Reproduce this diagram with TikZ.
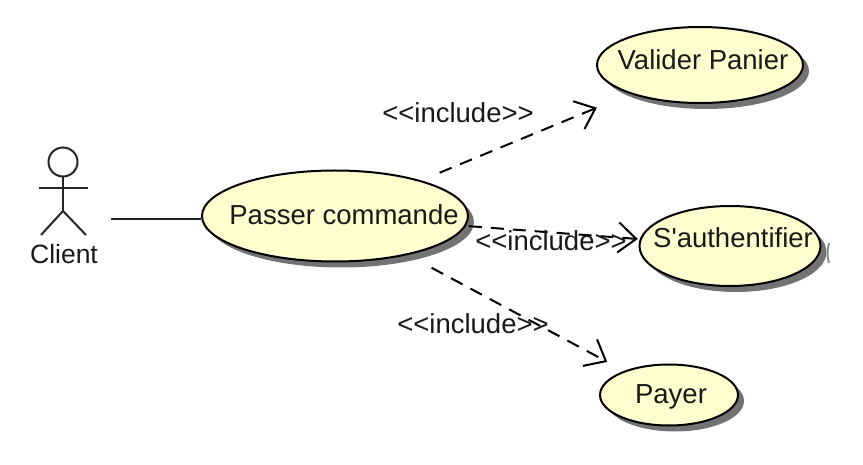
\documentclass[tikz,border=0pt]{standalone}
\usepackage{fontspec}
\setmainfont{Liberation Sans}
\usetikzlibrary{arrows.meta, shapes.geometric, shadows}
\definecolor{usecasefill}{HTML}{FEFECE}
\newcommand{\includelabel}{<{}<include>{}>}
\newcommand{\casename}[3]{\raisebox{\dimexpr#2-0.35em}[0pt][0pt]{\makebox[0pt]{\hspace*{#1}#3}}}
\begin{document}
\begin{tikzpicture}[x=1pt, y=-1pt,
  usecase/.style = {shape=ellipse, draw, line width=2pt, fill=usecasefill, inner sep=0pt,
    font=\fontsize{27.5}{27.5}\selectfont, text=black!90,
    drop shadow={shadow xshift=6pt, shadow yshift=-6pt, fill=black!55, opacity=1}},
  inclabel/.style = {inner sep=0pt, font=\fontsize{27.5}{27.5}\selectfont, text=black!90},
  includes/.style = {dashed, dash pattern=on 13pt off 9pt, line width=2pt,
    -{Straight Barb[length=18pt, width=30pt, line width=2pt]}},
  stick/.style = {line width=2pt, black!85}]
  \useasboundingbox (0,0) rectangle (863,465);
  % use cases
  \node[usecase, minimum width=266pt, minimum height=91pt] (passer) at (335,216) {\casename{18pt}{1pt}{Passer commande}};
  \node[usecase, minimum width=206pt, minimum height=76pt] (valider) at (700,65) {\casename{6pt}{5pt}{Valider Panier}};
  \node[usecase, minimum width=181pt, minimum height=80pt] (authentifier) at (730,246) {\casename{6pt}{8pt}{S\textquotesingle authentifier}};
  \node[usecase, minimum width=138pt, minimum height=61pt] (payer) at (669,395) {\casename{4pt}{1pt}{Payer}};
  \draw[line width=2pt, black!45] (829,243) .. controls (827,250) and (827,257) .. (829,263);
  % actor
  \node[circle, draw, line width=2pt, black!85, minimum size=29pt, inner sep=0pt] (head) at (63,162) {};
  \coordinate (hip) at (63,211);
  \draw[stick] (head.south) -- (hip);
  \coordinate (armleft) at (39,188);
  \coordinate (armright) at (88,188);
  \coordinate (footleft) at (41,235);
  \coordinate (footright) at (86,235);
  \draw[stick] (armleft) -- (armright);
  \draw[stick] (footleft) -- (hip) -- (footright);
  \node[inclabel, font=\fontsize{26.5}{26.5}\selectfont] (client) at (64,254) {Client};
  % connectors
  \coordinate (clientend) at (111,219);
  \draw[stick] (clientend) -- (passer.west |- clientend);
  \draw[includes, shorten <=20pt, shorten >=36pt] (passer) -- (valider);
  \draw[includes, shorten <=3pt, shorten >=2pt] (passer) -- (authentifier);
  \draw[includes, shorten <=27pt, shorten >=19pt] (passer) -- (payer);
  \node[inclabel] (labelvalider) at (458,113) {\includelabel};
  \node[inclabel] (labelauth) at (551,241) {\includelabel};
  \node[inclabel] (labelpayer) at (473,324) {\includelabel};
\end{tikzpicture}
\end{document}
